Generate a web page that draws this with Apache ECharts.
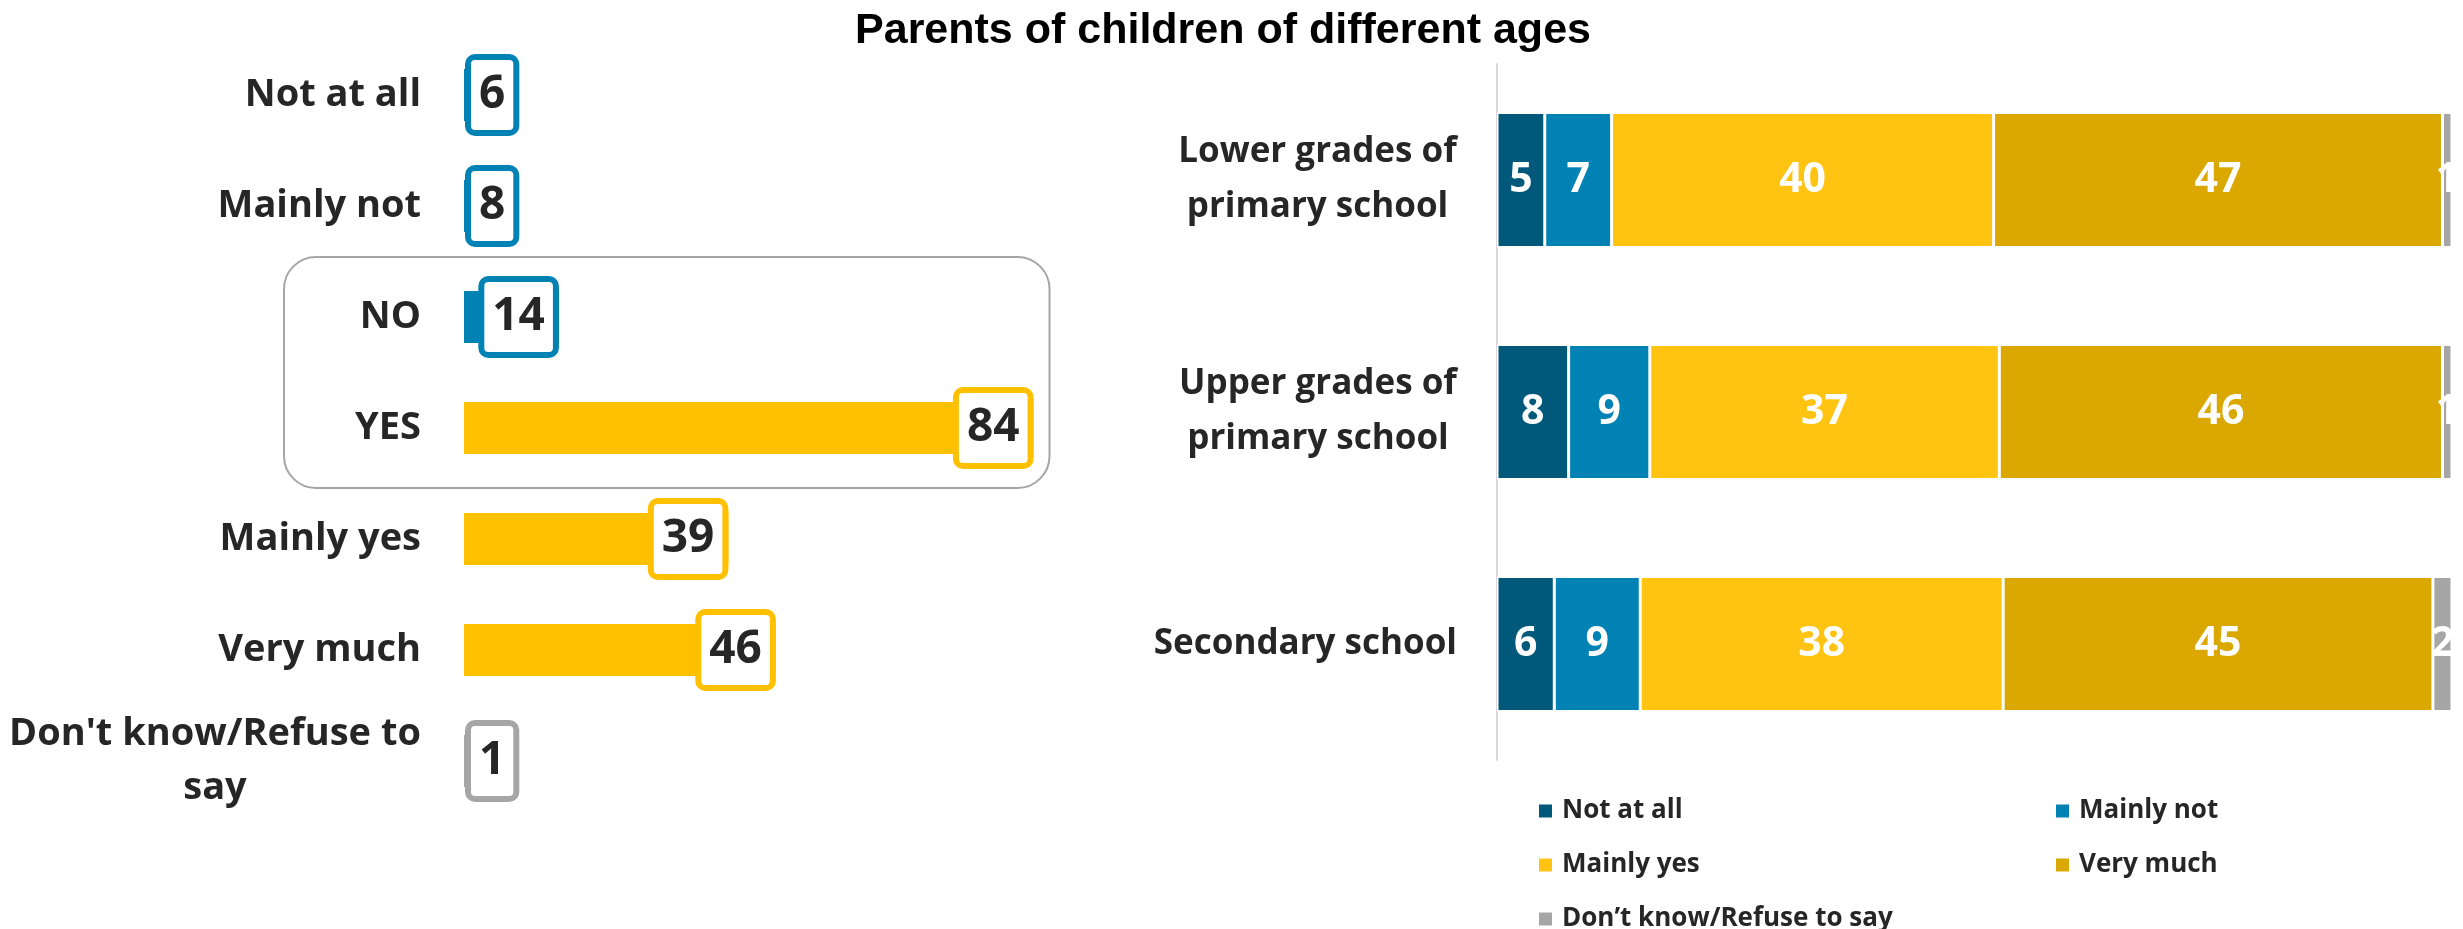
<!DOCTYPE html>
<html>
<head>
<meta charset="utf-8">
<script src="https://cdn.jsdelivr.net/npm/echarts@6/dist/echarts.min.js"></script>
<style>
html,body{margin:0;padding:0;background:#fff;}
#chart{width:2463px;height:929px;}
</style>
</head>
<body>
<div id="chart"></div>
<script>
// ---- Data ----
const titleText = 'Parents of children of different ages';

// Left panel (all parents)
const leftCategories = ['Not at all', 'Mainly not', 'NO', 'YES', 'Mainly yes', 'Very much', "Don't know/Refuse to\nsay"];
const leftValues = [6, 8, 14, 84, 39, 46, 1];
const leftGroups = ['no', 'no', 'no', 'yes', 'yes', 'yes', 'dk'];

// Right panel (by age of child)
const rightCategories = ['Lower grades of\nprimary school', 'Upper grades of\nprimary school', 'Secondary school'];
const seriesNames = ['Not at all', 'Mainly not', 'Mainly yes', 'Very much', 'Don\u2019t know/Refuse to say'];
const notAtAll  = [5, 7.5, 6];
const mainlyNot = [7, 8.5, 9];
const mainlyYes = [40, 36.6, 38];
const veryMuch  = [47, 46.4, 45];
const dontKnow  = [1, 1, 2];

// ---- Styles ----
const FONT = "'Open Sans', 'Noto Sans', sans-serif";
const TEXT = '#262626';
const groupColors = { no: '#0082B4', yes: '#FFC000', dk: '#A6A6A6' };
const seriesColors = ['#00587A', '#0082B4', '#FFC312', '#DAA800', '#A6A6A6'];
const rightValues = [notAtAll, mainlyNot, mainlyYes, veryMuch, dontKnow];

// measure text for centred multi-line labels
const mctx = document.createElement('canvas').getContext('2d');
function textW(s, size) {
  mctx.font = 'bold ' + size + 'px ' + FONT;
  return Math.ceil(mctx.measureText(s).width);
}
function centredLabel(size) {
  return function (v) {
    if (v.indexOf('\n') < 0) return v;
    const lines = v.split('\n');
    const w = Math.max.apply(null, lines.map(l => textW(l, size)));
    return lines.map(l => '{c' + w + '|' + l + '}').join('\n');
  };
}
function richFor(cats, size, lh) {
  const rich = {};
  cats.forEach(v => {
    if (v.indexOf('\n') < 0) return;
    const lines = v.split('\n');
    const w = Math.max.apply(null, lines.map(l => textW(l, size)));
    rich['c' + w] = { width: w, align: 'center', fontSize: size, fontWeight: 'bold', fontFamily: FONT, color: TEXT, lineHeight: lh };
  });
  return rich;
}

const chart = echarts.init(document.getElementById('chart'), null, { renderer: 'canvas' });

const leftData = leftValues.map((v, i) => {
  const col = groupColors[leftGroups[i]];
  const small = v < 10;
  return {
    value: v,
    itemStyle: { color: col },
    label: {
      borderColor: col,
      position: small ? 'insideLeft' : 'insideRight',
      distance: small ? 7 : 6
    }
  };
});

const rightSeries = seriesNames.map((name, k) => ({
  name: name,
  type: 'bar',
  stack: 'total',
  xAxisIndex: 1,
  yAxisIndex: 1,
  barWidth: 135,
  data: rightValues[k],
  itemStyle: { color: seriesColors[k], borderColor: '#ffffff', borderWidth: 1.5 },
  label: {
    show: true,
    position: 'inside',
    formatter: p => String(Math.round(p.value)),
    color: '#ffffff',
    fontSize: 41,
    fontWeight: 'bold',
    fontFamily: FONT
  },
  emphasis: { disabled: true }
}));

const legendText = { fontFamily: FONT, fontWeight: 'bold', fontSize: 26, color: TEXT, lineHeight: 26, padding: [0, 0, 0, 4] };
const legendBase = {
  orient: 'vertical',
  top: 798,
  height: 400,
  width: 500,
  padding: 0,
  itemWidth: 15,
  itemHeight: 15,
  itemGap: 28,
  icon: 'rect',
  textStyle: legendText,
  selectedMode: false
};

const option = {
  animation: false,
  backgroundColor: '#ffffff',
  title: {
    text: titleText,
    left: 1218,
    textAlign: 'center',
    top: 5,
    textStyle: { fontFamily: "'Liberation Sans', Arial, sans-serif", fontWeight: 'bold', fontSize: 43, color: '#000000' }
  },
  legend: [
    Object.assign({}, legendBase, { left: 1537, data: [seriesNames[0], seriesNames[2], seriesNames[4]] }),
    Object.assign({}, legendBase, { left: 2054, data: [seriesNames[1], seriesNames[3]] })
  ],
  grid: [
    { left: 464, top: 39.5, width: 678, height: 777 },
    { left: 1497, top: 64, width: 955, height: 696 }
  ],
  xAxis: [
    { gridIndex: 0, type: 'value', min: 0, max: 100, show: false },
    { gridIndex: 1, type: 'value', min: 0, max: 100, show: false }
  ],
  yAxis: [
    {
      gridIndex: 0, type: 'category', inverse: true, data: leftCategories,
      axisLine: { show: false }, axisTick: { show: false },
      axisLabel: {
        margin: 43, fontFamily: FONT, fontWeight: 'bold', fontSize: 38, color: TEXT, lineHeight: 54,
        formatter: centredLabel(38), rich: richFor(leftCategories, 38, 54)
      }
    },
    {
      gridIndex: 1, type: 'category', inverse: true, data: rightCategories,
      axisLine: { show: true, lineStyle: { color: '#D9D9D9', width: 2 } }, axisTick: { show: false },
      axisLabel: {
        margin: 40, fontFamily: FONT, fontWeight: 'bold', fontSize: 35, color: TEXT, lineHeight: 55,
        formatter: centredLabel(35), rich: richFor(rightCategories, 35, 55)
      }
    }
  ],
  series: [
    {
      name: 'All parents',
      type: 'bar',
      xAxisIndex: 0,
      yAxisIndex: 0,
      barWidth: 52,
      data: leftData,
      z: 2,
      label: {
        show: true,
        formatter: '{c}',
        color: TEXT,
        fontSize: 46,
        fontWeight: 'bold',
        fontFamily: FONT,
        lineHeight: 48,
        backgroundColor: '#ffffff',
        borderWidth: 6,
        borderRadius: 4,
        padding: [11, 8, 11, 8]
      },
      emphasis: { disabled: true }
    }
  ].concat(rightSeries)
};

chart.setOption(option);

// rounded frame around the NO / YES summary rows
const pNo = chart.convertToPixel({ gridIndex: 0 }, [0, 2]);
const pYes = chart.convertToPixel({ gridIndex: 0 }, [0, 3]);
const pEnd = chart.convertToPixel({ gridIndex: 0 }, [leftValues[3], 3]);
chart.setOption({
  graphic: [{
    type: 'rect',
    z: 1,
    shape: { x: pNo[0] - 180, y: pNo[1] - 60, width: (pEnd[0] + 16) - (pNo[0] - 180), height: (pYes[1] - pNo[1]) + 120, r: 32 },
    style: { fill: 'none', stroke: '#A6A6A6', lineWidth: 2 }
  }]
});
</script>
</body>
</html>
